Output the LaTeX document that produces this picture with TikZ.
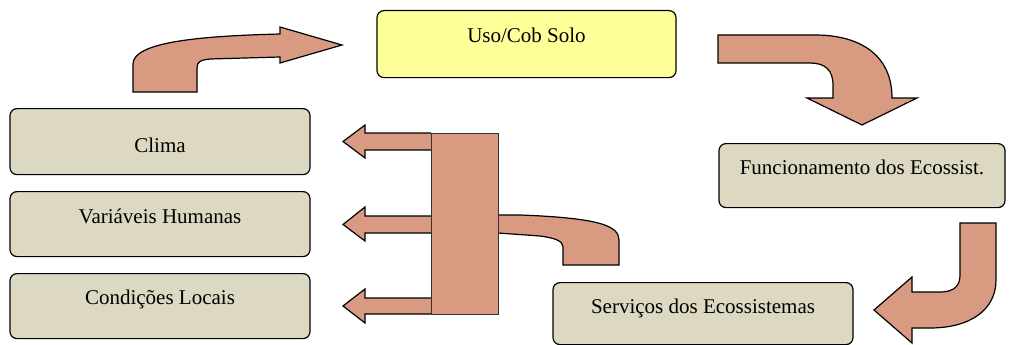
\documentclass[tikz,border=0pt]{standalone}
\usepackage{fontspec}
\setmainfont{Liberation Serif}
\definecolor{beige}{RGB}{221,216,194}
\definecolor{paleyellow}{RGB}{255,255,153}
\definecolor{salmon}{RGB}{216,155,130}
\begin{document}
\begin{tikzpicture}[x=1pt,y=-1pt,
    box/.style={draw, line width=1.2pt, rounded corners=7pt, fill=beige,
        inner xsep=0pt, inner ysep=0pt, anchor=north,
        font=\fontsize{21}{25}\selectfont},
    bigarrow/.style={fill=salmon, draw=black, line width=1.2pt, line join=miter}]
    \useasboundingbox (0,0) rectangle (1009,345);
    % boxes
    \node[box, fill=paleyellow, minimum width=299pt,
        text height=32pt, text depth=35pt] (uso) at (526.5,10) {Uso/Cob Solo};
    \node[box, minimum width=300pt,
        text height=44pt, text depth=22pt] (clima) at (160,108) {Clima};
    \node[box, minimum width=300pt,
        text height=32pt, text depth=33pt] (humanas) at (160,191) {Variáveis Humanas};
    \node[box, minimum width=300pt,
        text height=31pt, text depth=34pt] (locais) at (160,273) {Condições Locais};
    \node[box, minimum width=286pt,
        text height=31pt, text depth=33pt] (funcion) at (862,143) {Funcionamento dos Ecossist.};
    \node[box, minimum width=300pt,
        text height=31pt, text depth=31pt] (servicos) at (703,282) {Serviços dos Ecossistemas};
    % bent arrow up to Uso/Cob Solo
    \draw[bigarrow] (133,92) -- (133,64) .. controls (133,42) and (200,36) .. (280,34)
        -- (280,27) -- (342,45) -- (280,63) -- (280,57) -- (210,59)
        .. controls (200,60) and (197,62) .. (197,68) -- (197,92) -- cycle;
    % bent arrow down to Funcionamento
    \draw[bigarrow] (718,35) -- (815,35) .. controls (860,35) and (892,55) .. (892,98)
        -- (917,98) -- (862,125) -- (807,98) -- (833,98) -- (833,85)
        .. controls (833,70) and (825,63) .. (810,63) -- (718,63) -- cycle;
    % bent arrow down to Servicos
    \draw[bigarrow] (960,223) -- (996,223) -- (996,280)
        .. controls (996,310) and (970,328) .. (930,328) -- (912,328) -- (912,343)
        -- (874,310) -- (912,277) -- (912,292) -- (940,292)
        .. controls (955,292) and (960,285) .. (960,275) -- cycle;
    % feedback to the drivers
    \filldraw[bigarrow] (431,133) -- (365,133) -- (365,125) -- (343,141.5)
        -- (365,158) -- (365,150) -- (431,150);
    \filldraw[bigarrow] (431,216) -- (365,216) -- (365,207) -- (343,224.5)
        -- (365,241) -- (365,233) -- (431,233);
    \filldraw[bigarrow] (431,298) -- (365,298) -- (365,289) -- (343,306)
        -- (365,323) -- (365,314) -- (431,314);
    \filldraw[bigarrow] (498,215) -- (520,215) .. controls (600,218) and (619,226) .. (619,240)
        -- (619,265) -- (563,265) -- (563,247)
        .. controls (563,241) and (555,238) .. (540,236) -- (498,233);
    \filldraw[fill=salmon, draw=black!80, line width=0.5pt] (431,133) rectangle (498,314);
\end{tikzpicture}
\end{document}
